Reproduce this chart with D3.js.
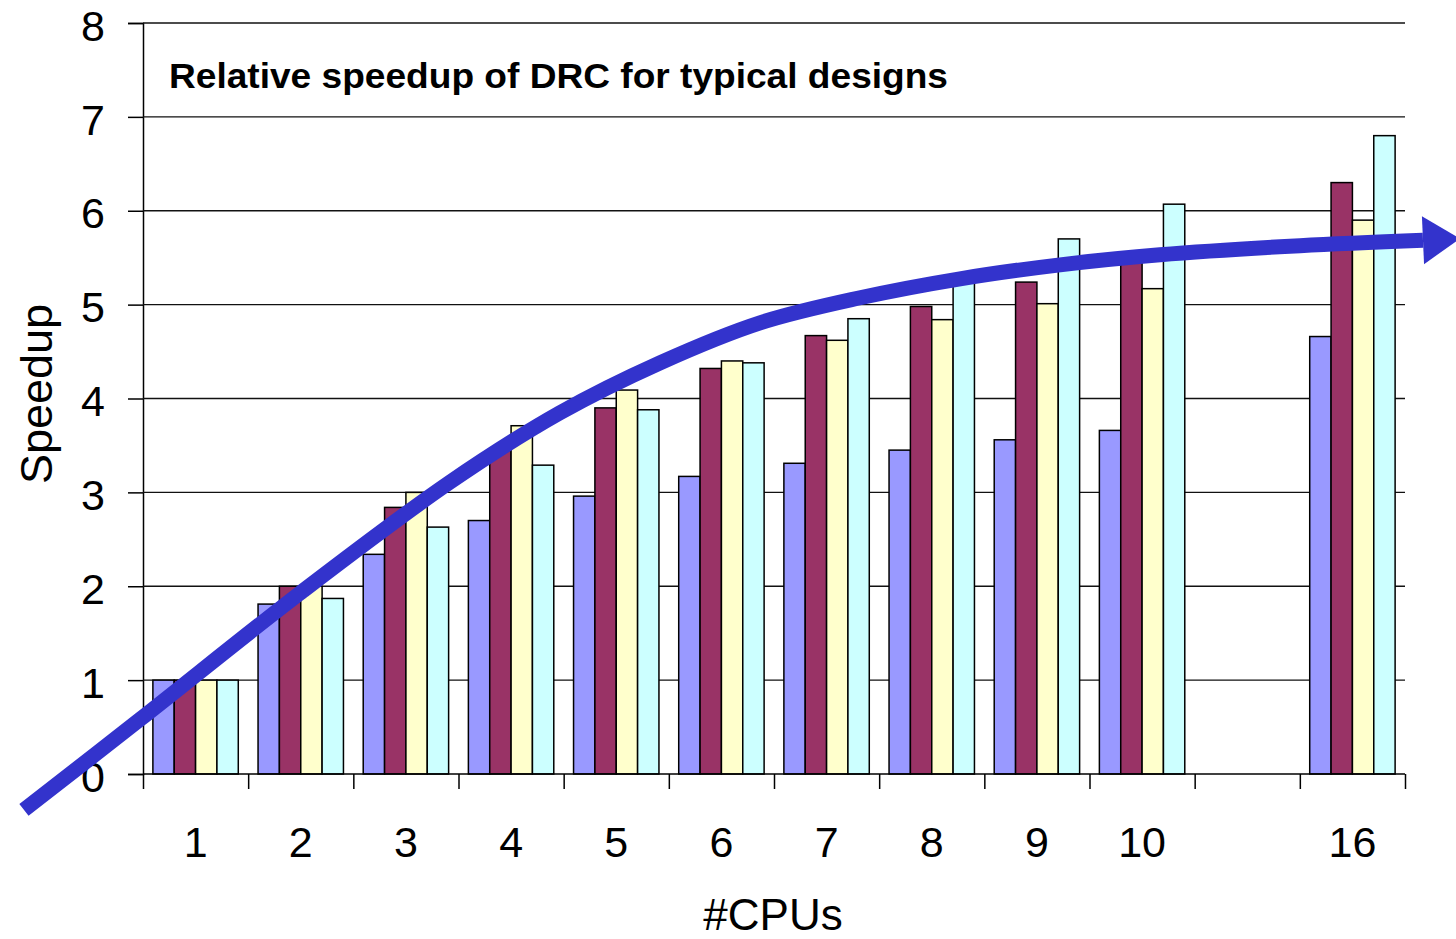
<!DOCTYPE html>
<html>
<head>
<meta charset="utf-8">
<script src="https://cdn.jsdelivr.net/npm/d3@7"></script>
<style>
  html, body { margin: 0; padding: 0; background: #fff; }
  svg { display: block; }
  text { font-family: "Liberation Sans", Arial, sans-serif; fill: #000; }
</style>
</head>
<body>
<svg id="chart" width="1456" height="939"></svg>
<script>
// CPU counts on the x axis (the blank slot leaves a gap before 16)
const categories = ["1", "2", "3", "4", "5", "6", "7", "8", "9", "10", "", "16"];

// Speedup per design, one array per series
const design1 = [1.00, 1.81, 2.34, 2.70, 2.96, 3.17, 3.31, 3.45, 3.56, 3.66, null, 4.66];
const design2 = [1.00, 2.00, 2.84, 3.47, 3.90, 4.32, 4.67, 4.98, 5.24, 5.50, null, 6.30];
const design3 = [1.00, 2.00, 3.00, 3.71, 4.09, 4.40, 4.62, 4.84, 5.01, 5.17, null, 5.90];
const design4 = [1.00, 1.87, 2.63, 3.29, 3.88, 4.38, 4.85, 5.32, 5.70, 6.07, null, 6.80];

const seriesColors = ["#9999FF", "#993366", "#FFFFCC", "#CCFFFF"];
const yTicks = [0, 1, 2, 3, 4, 5, 6, 7, 8];

// Hand-drawn trend arrow, in slot units (x) and speedup units (y)
const trendX = [-1.132, -0.029, 1.493, 2.919, 3.965, 4.916, 5.867, 6.818, 7.769, 8.720, 9.670, 11.002, 12.171];
const trendY = [-0.383, 0.581, 1.927, 3.109, 3.848, 4.380, 4.806, 5.073, 5.275, 5.424, 5.531, 5.628, 5.686];

const titleText = "Relative speedup of DRC for typical designs";
const xTitle = "#CPUs";
const yTitle = "Speedup";

const svg = d3.select("#chart");
const plotLeft = 143, plotRight = 1405, plotTop = 23, plotBottom = 774;

const x = d3.scaleBand().domain(categories).range([plotLeft, plotRight])
  .paddingInner(0.188).paddingOuter(0.094);
const slot = d3.scaleLinear().domain([0, categories.length]).range([plotLeft, plotRight]);
const y = d3.scaleLinear().domain([0, 8]).range([plotBottom, plotTop]);

const series = [design1, design2, design3, design4];
const xInner = d3.scaleBand().domain(d3.range(series.length)).range([0, x.bandwidth()]);

// Value axis with outward ticks
const yAxis = d3.axisLeft(y).tickValues(yTicks).tickSize(15).tickPadding(23);
const gy = svg.append("g").attr("transform", `translate(${plotLeft},0)`).call(yAxis);
gy.select(".domain").attr("stroke", "#000").attr("stroke-width", 1.5);
gy.selectAll(".tick line").attr("stroke", "#000").attr("stroke-width", 1.5);
gy.selectAll(".tick text").attr("font-size", 43).attr("dy", "0.4em")
  .attr("font-family", "Liberation Sans, Arial, sans-serif");

// Horizontal gridlines
svg.append("g").selectAll("line").data(yTicks.filter(d => d > 0)).join("line")
  .attr("x1", plotLeft).attr("x2", plotRight)
  .attr("y1", d => y(d)).attr("y2", d => y(d))
  .attr("stroke", "#111").attr("stroke-width", 1.4);

// Bars
const groups = svg.append("g").selectAll("g").data(categories).join("g")
  .attr("transform", d => `translate(${x(d)},0)`);
groups.selectAll("rect")
  .data((d, i) => series.map((s, k) => ({ k, v: s[i] })).filter(e => e.v != null))
  .join("rect")
  .attr("x", d => xInner(d.k))
  .attr("width", xInner.bandwidth())
  .attr("y", d => y(d.v))
  .attr("height", d => y(0) - y(d.v))
  .attr("fill", d => seriesColors[d.k])
  .attr("stroke", "#000").attr("stroke-width", 1.5);

// Category axis: ticks on slot boundaries, labels at slot centres
const slotAxis = d3.axisBottom(slot).tickValues(d3.range(categories.length + 1))
  .tickSize(15).tickFormat("");
const gx = svg.append("g").attr("transform", `translate(0,${plotBottom})`).call(slotAxis);
gx.select(".domain").attr("stroke", "#000").attr("stroke-width", 1.5)
  .attr("d", `M${plotLeft},0H${plotRight}`);
gx.selectAll(".tick line").attr("stroke", "#000").attr("stroke-width", 1.5);

const labelAxis = d3.axisBottom(x).tickSize(0).tickPadding(52);
const gl = svg.append("g").attr("transform", `translate(0,${plotBottom})`).call(labelAxis);
gl.select(".domain").remove();
gl.selectAll(".tick text").attr("font-size", 43)
  .attr("font-family", "Liberation Sans, Arial, sans-serif");

// Title inside the plot
svg.append("text").attr("x", 169).attr("y", 88)
  .attr("font-size", 35).attr("font-weight", "bold")
  .attr("textLength", 779).attr("lengthAdjust", "spacingAndGlyphs")
  .text(titleText);

// Axis titles
svg.append("text").attr("x", 773).attr("y", 930).attr("text-anchor", "middle")
  .attr("font-size", 44).text(xTitle);
svg.append("text").attr("transform", "translate(52,394) rotate(-90)")
  .attr("text-anchor", "middle").attr("font-size", 45).text(yTitle);

// Trend arrow
const pts = trendX.map((v, i) => [slot(v), y(trendY[i])]);
svg.append("path")
  .attr("d", d3.line().curve(d3.curveCatmullRom.alpha(0.5))(pts))
  .attr("fill", "none").attr("stroke", "#3333CC").attr("stroke-width", 15);

const [ex, ey] = pts[pts.length - 1];
const [px, py] = pts[pts.length - 2];
const len = Math.hypot(ex - px, ey - py);
const ux = (ex - px) / len, uy = (ey - py) / len;
const headLen = 37, headHalf = 24;
const head = [
  [ex + ux * headLen, ey + uy * headLen],
  [ex - uy * headHalf, ey + ux * headHalf],
  [ex + uy * headHalf, ey - ux * headHalf]
];
svg.append("path").attr("d", "M" + head.map(p => p.join(",")).join("L") + "Z")
  .attr("fill", "#3333CC");
</script>
</body>
</html>
